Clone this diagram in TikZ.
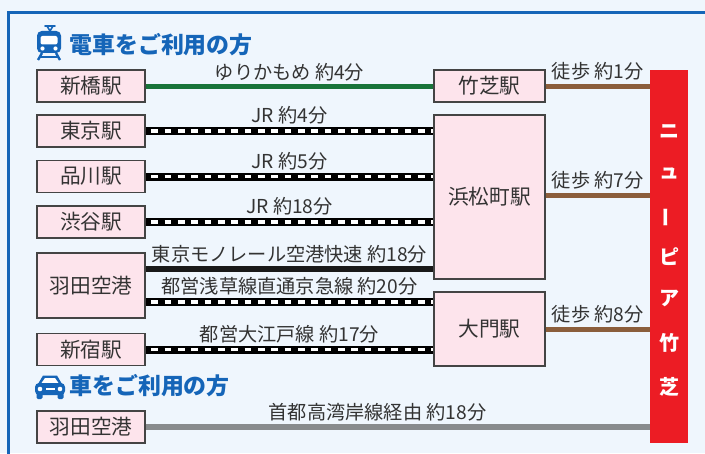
\documentclass[tikz,border=0pt]{standalone}
\usepackage{fontspec}
\setmainfont{Noto Sans CJK JP}
\usetikzlibrary{calc}
\definecolor{bgc}{HTML}{EFF6FD}
\definecolor{frameblue}{HTML}{1565B8}
\definecolor{pinkfill}{HTML}{FDE4EC}
\definecolor{boxline}{HTML}{444444}
\definecolor{txt}{HTML}{333333}
\definecolor{redbox}{HTML}{EC1C24}
\definecolor{greenline}{HTML}{18743A}
\definecolor{brownline}{HTML}{8B5E3C}
\definecolor{grayline}{HTML}{888B8D}
\tikzset{
  stn/.style={draw=boxline, fill=pinkfill, line width=0.8pt, inner sep=0pt,
    font=\fontsize{15.5pt}{16pt}\selectfont, text=txt},
  lstn/.style={stn, minimum width=81pt, minimum height=24pt},
  mstn/.style={stn, minimum width=83.25pt},
  lbl/.style={font=\fontsize{14.4pt}{15pt}\selectfont, text=txt, inner sep=0pt},
  hdr/.style={font=\bfseries\fontsize{17.2pt}{18pt}\selectfont, text=frameblue, inner sep=0pt, anchor=west},
  rail/.style={draw=black, line width=6pt,
    postaction={draw=white, line width=2.6pt, dash pattern=on 5pt off 5pt, dash phase=5.7pt}},
  mono/.style={draw=black!90, line width=4pt},
  yuri/.style={draw=greenline, line width=3.75pt},
  walk/.style={draw=brownline, line width=3.75pt},
  road/.style={draw=grayline, line width=4.5pt},
  vch/.style={font=\bfseries\fontsize{15pt}{16pt}\selectfont, text=white, inner sep=0pt}
}
\begin{document}
\begin{tikzpicture}[x=0.75pt,y=-0.75pt]
\fill[bgc] (0,0) rectangle (705,453);
\useasboundingbox (0,0) rectangle (705,453);
\draw[frameblue, line width=1.9pt] (8.5,12.5) rectangle (720,470);

% headers
\node[hdr] (h1) at (69,45) {電車をご利用の方};
\node[hdr] (h2) at (69,386) {車をご利用の方};

% train icon
\begin{scope}[frameblue]
  \draw[line width=1.4pt, line cap=round] (45,26) -- (55,26);
  \draw[line width=1.2pt] (47,26) -- (50,31) -- (53,26);
  \fill[rounded corners=3.5pt] (37,31) rectangle (61,53);
  \fill[white, rounded corners=1.5pt] (40.5,36) rectangle (57.5,44.5);
  \fill[white] (42.5,48.5) circle (2.1);
  \fill[white] (55.5,48.5) circle (2.1);
  \draw[line width=1.8pt] (42,53) -- (38,60);
  \draw[line width=1.8pt] (56,53) -- (60,60);
  \draw[line width=1.5pt] (40,57) -- (58,57);
\end{scope}

% car icon
\begin{scope}[frameblue]
  \fill (38,384) -- (43,375.5) -- (57,375.5) -- (62,384) -- cycle;
  \fill[white] (41.5,383) -- (45,378) -- (55,378) -- (58.5,383) -- cycle;
  \fill[rounded corners=3pt] (35,383) rectangle (65,395);
  \fill[white] (40,389) circle (2.3);
  \fill[white] (60,389) circle (2.3);
  \fill[white] (45.5,388) rectangle (54.5,390);
  \fill[rounded corners=1pt] (36.5,393) rectangle (42.5,399);
  \fill[rounded corners=1pt] (57.5,393) rectangle (63.5,399);
\end{scope}

% left stations
\node[lstn] (shinbashi) at (91,86) {新橋駅};
\node[lstn] (tokyo) at (91,131) {東京駅};
\node[lstn] (shinagawa) at (91,176.5) {品川駅};
\node[lstn] (shibuya) at (91,222) {渋谷駅};
\node[lstn, minimum height=48.75pt] (haneda) at (91,285.5) {羽田空港};
\node[lstn] (shinjuku) at (91,349.5) {新宿駅};
\node[lstn] (haneda2) at (91,427) {羽田空港};

% middle stations
\node[mstn, minimum height=24pt] (takeshiba) at (489.5,86) {竹芝駅};
\node[mstn, minimum height=123pt] (hama) at (489.5,197) {浜松町駅};
\node[mstn, minimum height=55.5pt] (daimon) at (489.5,329) {大門駅};

% destination
\node[fill=redbox, minimum width=28.5pt, minimum height=279.75pt, inner sep=0pt, anchor=north west] (dest) at (650,70) {};
\node[vch] (c1) at (669,132) {ニ};
\node[vch] (c2) at (669,173) {ュ};
\node[vch, rotate=90] (c3) at (669,217) {ー};
\node[vch] (c4) at (669,257) {ピ};
\node[vch] (c5) at (669,298) {ア};
\node[vch] (c6) at (669,343) {竹};
\node[vch] (c7) at (669,387) {芝};

% named line ends
\coordinate (hA) at ($(haneda.east)+(0,-16.5)$);
\coordinate (hB) at ($(haneda.east)+(0,16.5)$);
\coordinate (hW) at ($(hama.east)+(0,-2)$);

% connectors
\draw[yuri] (shinbashi.east) -- (takeshiba.west) node[lbl, midway, above=2pt] {ゆりかもめ 約4分};
\draw[rail] (tokyo.east) -- (tokyo.east -| hama.west) node[lbl, midway, above=2pt] {JR 約4分};
\draw[rail] (shinagawa.east) -- (shinagawa.east -| hama.west) node[lbl, midway, above=2pt] {JR 約5分};
\draw[rail] (shibuya.east) -- (shibuya.east -| hama.west) node[lbl, midway, above=2pt] {JR 約18分};
\draw[mono] (hA) -- (hA -| hama.west) node[lbl, midway, above=2.5pt] {東京モノレール空港快速 約18分};
\draw[rail] (hB) -- (hB -| daimon.west) node[lbl, midway, above=2pt] {都営浅草線直通京急線 約20分};
\draw[rail] (shinjuku.east) -- (shinjuku.east -| daimon.west) node[lbl, midway, above=2pt] {都営大江戸線 約17分};

\draw[walk] (takeshiba.east) -- (takeshiba.east -| dest.west) node[lbl, midway, above=2.5pt] {徒歩 約1分};
\draw[walk] (hW) -- (hW -| dest.west) node[lbl, midway, above=2.5pt] {徒歩 約7分};
\draw[walk] (daimon.east) -- (daimon.east -| dest.west) node[lbl, midway, above=2.5pt] {徒歩 約8分};

\draw[road] (haneda2.east) -- (haneda2.east -| dest.west) node[lbl, pos=0.46, above=2.5pt] {首都高湾岸線経由 約18分};
\end{tikzpicture}
\end{document}
